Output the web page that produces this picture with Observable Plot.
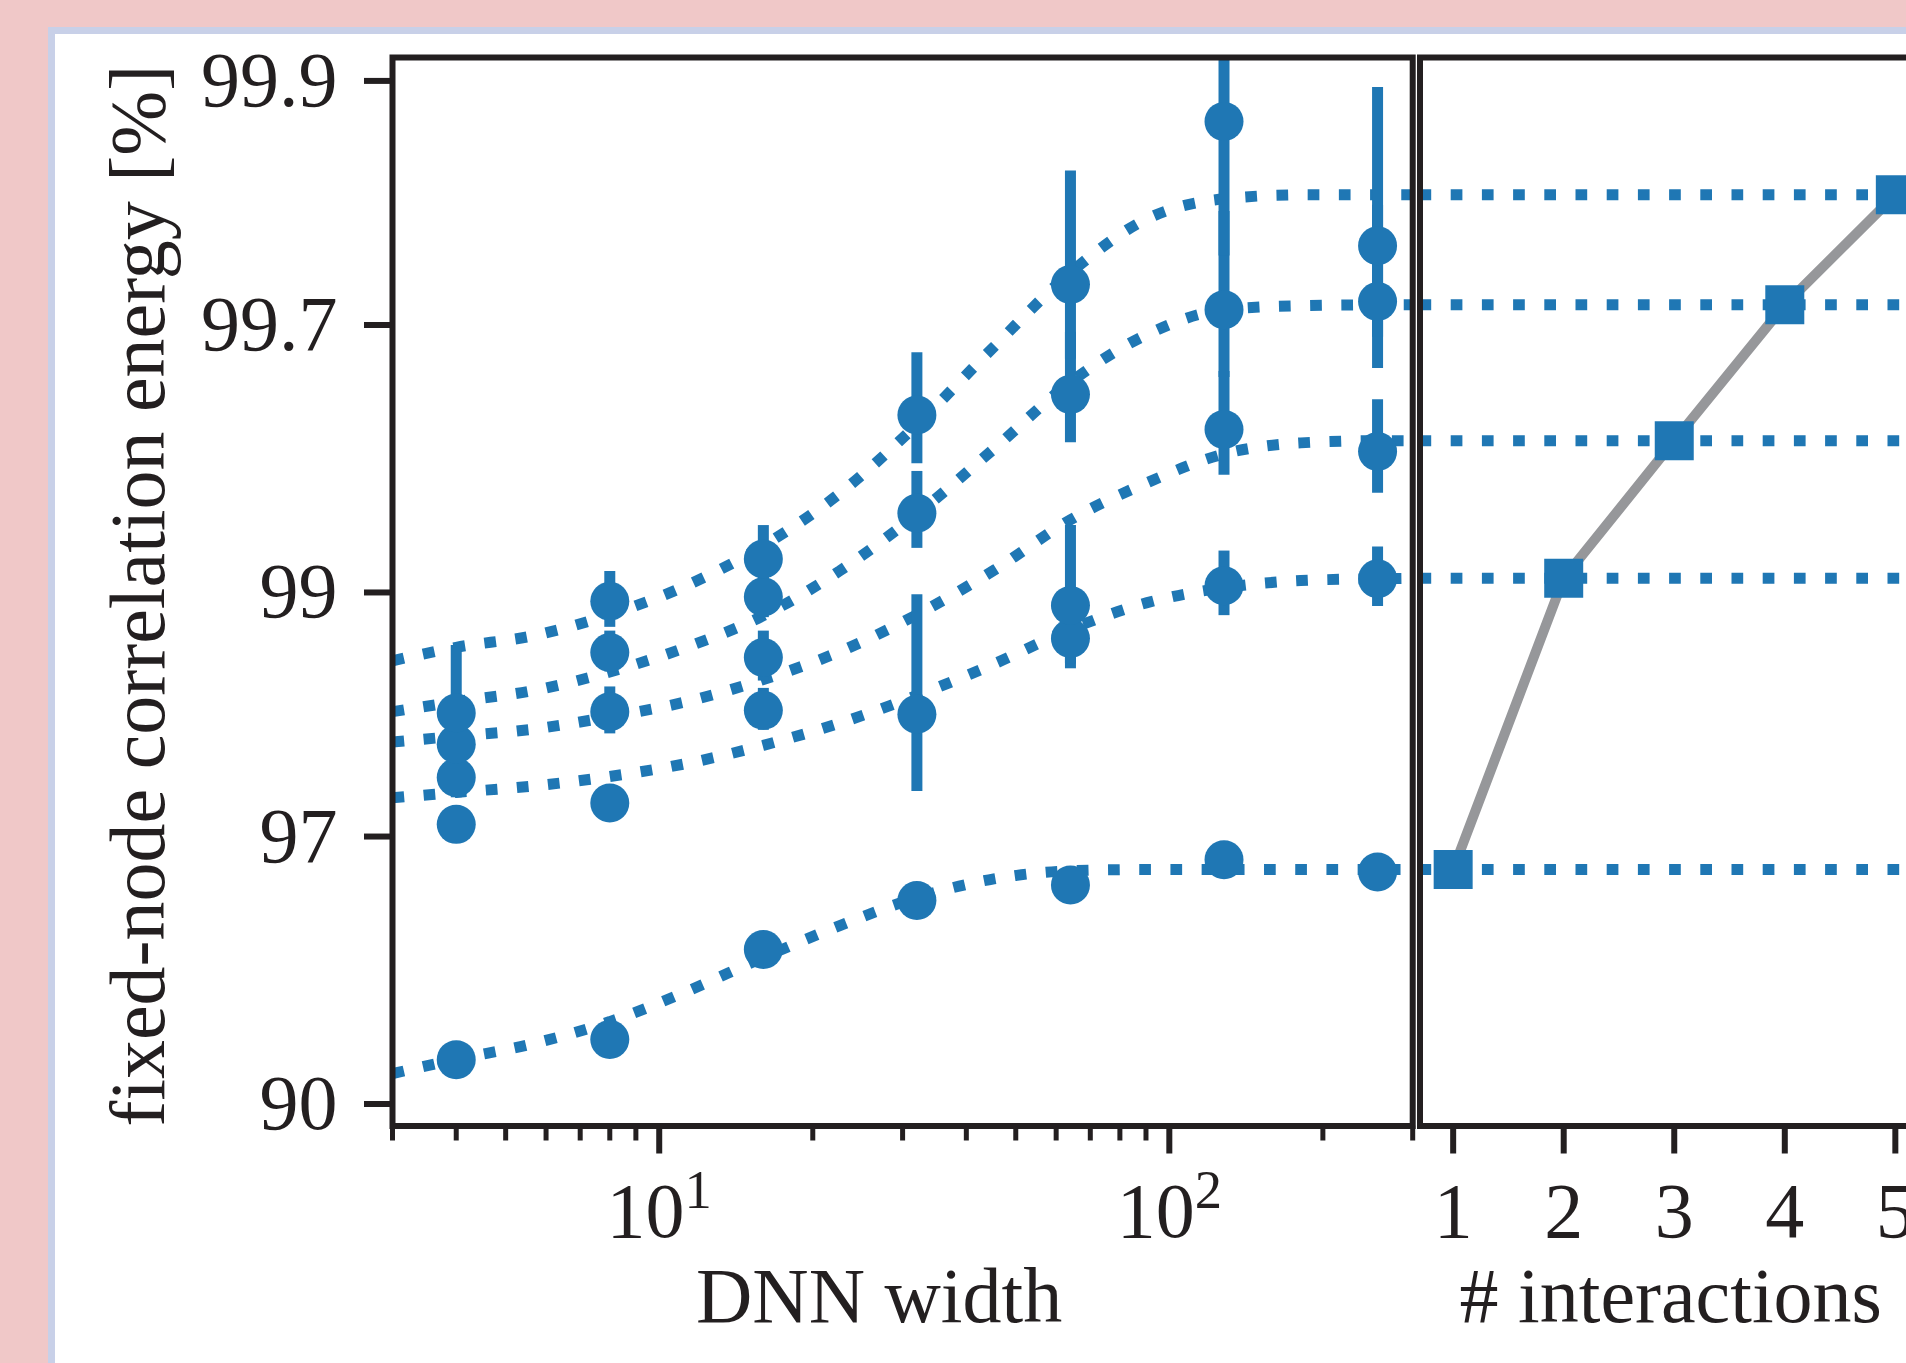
<!DOCTYPE html>
<html>
<head>
<meta charset="utf-8">
<script src="https://cdn.jsdelivr.net/npm/d3@7"></script>
<script src="https://cdn.jsdelivr.net/npm/@observablehq/plot@0.6"></script>
<style>
  html, body { margin: 0; padding: 0; width: 1906px; height: 1363px; overflow: hidden; background: #f0c8c8; }
  #blue { position: absolute; left: 48px; top: 27px; width: 1858px; height: 1336px; background: #c8d0e8; }
  #white { position: absolute; left: 55px; top: 34px; width: 1851px; height: 1329px; background: #ffffff; }
  .layer { position: absolute; left: 0; top: 0; }
</style>
</head>
<body>
<div id="blue"></div>
<div id="white"></div>
<div id="left" class="layer"></div>
<div id="right" class="layer"></div>
<script>
// ---------------- data (fixed-node correlation energy, %) ----------------
const widths = [4, 8, 16, 32, 64, 128, 256];          // DNN width
const interactions = [1, 2, 3, 4, 5];                  // # interactions

// measured energies per # interactions (rows) vs DNN width
const energy1 = [91.81, 92.52, 95.01, 96.00, 96.27, 96.67, 96.48];
const energy2 = [97.16, 97.42, 98.30, 98.27, 98.77, 99.03, 99.06];
const energy3 = [97.70, 98.29, 98.66, null, 98.94, 99.52, 99.47];
const energy4 = [98.02, 98.69, 98.98, 99.30, 99.59, 99.72, 99.73];
const energy5 = [98.28, 98.96, 99.14, 99.55, 99.75, 99.88, 99.79];

// error bars (±, %)
const error1 = [0, 0, 0, 0, 0, 0, 0];
const error2 = [0, 0, 0.16, 0.72, 0.18, 0.14, 0.125];
const error3 = [0.22, 0.18, 0.15, null, 0.32, 0.11, 0.11];
const error4 = [0.25, 0.12, 0.10, 0.12, 0.10, 0.10, 0.095];
const error5 = [0.45, 0.13, 0.12, 0.11, 0.10, 0.10, 0.107];

// dotted fit curves
const fitWidths = [3, 4, 5.66, 8, 11.3, 16, 22.6, 32, 45.3, 64, 90.5, 128, 181, 256, 300];
const fit1 = [91.28, 91.82, 92.38, 93.10, 93.97, 94.83, 95.52, 96.05, 96.37, 96.50, 96.52, 96.52, 96.52, 96.52, 96.52];
const fit2 = [97.48, 97.54, 97.61, 97.71, 97.84, 98.01, 98.20, 98.41, 98.62, 98.82, 98.953, 99.021, 99.052, 99.060, 99.062];
const fit3 = [98.04, 98.09, 98.15, 98.25, 98.365, 98.52, 98.695, 98.895, 99.095, 99.279, 99.39, 99.464, 99.49, 99.495, 99.495];
const fit4 = [98.29, 98.365, 98.445, 98.57, 98.72, 98.89, 99.093, 99.297, 99.476, 99.612, 99.687, 99.720, 99.725, 99.726, 99.726];
const fit5 = [98.64, 98.72, 98.785, 98.895, 99.03, 99.19, 99.36, 99.53, 99.669, 99.763, 99.814, 99.830, 99.833, 99.833, 99.833];

// converged energy per # interactions (right panel)
const interactionEnergy = [96.52, 99.062, 99.495, 99.726, 99.833];

// axes
const yTickValues = [99.9, 99.7, 99, 97, 90];
const yLimits = [88.96, 99.91];
const xLimits = [3, 300];
const xMajorTicks = [10, 100];
const xMinorTicks = [3, 4, 5, 6, 7, 8, 9, 20, 30, 40, 50, 60, 70, 80, 90, 200, 300];
const rightLimits = [0.7, 5.3];
const labels = {
  y: "fixed-node correlation energy [%]",
  xLeft: "DNN width",
  xRight: "# interactions"
};

// ---------------- build tables ----------------
const seriesE = [energy1, energy2, energy3, energy4, energy5];
const seriesErr = [error1, error2, error3, error4, error5];
const seriesFit = [fit1, fit2, fit3, fit4, fit5];

const points = [];
seriesE.forEach((arr, i) => arr.forEach((v, j) => {
  if (v != null) points.push({n: interactions[i], w: widths[j], v, e: seriesErr[i][j] || 0});
}));
const fits = [];
seriesFit.forEach((arr, i) => arr.forEach((v, j) => fits.push({n: interactions[i], w: fitWidths[j], v})));
const conv = interactionEnergy.map((v, i) => ({n: interactions[i], v}));

// ---------------- style ----------------
const blue = "#1f77b4";
const gray = "#96979a";
const ink = "#231f20";
const font = 78;
const H = 1363;
const frameTop = 57;
const frameBottom = 1125.5;
const dotted = "11.7,19.5";

const baseStyle = {
  fontFamily: "'Liberation Serif', 'DejaVu Serif', serif",
  fontSize: font + "px",
  color: ink,
  background: "transparent",
  overflow: "visible",
  maxWidth: "none"
};
const yScale = {type: "log", domain: yLimits.map(v => 100 - v)};

// ---------------- left panel ----------------
const leftW = 1906;
const left = Plot.plot({
  width: leftW,
  height: H,
  marginLeft: 392,
  marginRight: leftW - 1412.2,
  marginTop: frameTop,
  marginBottom: H - frameBottom,
  style: baseStyle,
  x: {type: "log", domain: xLimits},
  y: yScale,
  marks: [
    Plot.line(fits, {x: "w", y: d => 100 - d.v, z: "n", stroke: blue, strokeWidth: 11,
      strokeDasharray: dotted, strokeLinecap: "butt", strokeLinejoin: "miter", curve: "monotone-x", clip: true}),
    Plot.ruleX(points.filter(d => d.e > 0), {x: "w", y1: d => 100 - (d.v - d.e), y2: d => 100 - (d.v + d.e),
      stroke: blue, strokeWidth: 11, clip: true}),
    Plot.dot(points, {x: "w", y: d => 100 - d.v, r: 19.5, fill: blue}),
    Plot.axisX({ticks: xMinorTicks, tickSize: 15, strokeWidth: 5, stroke: ink, tickFormat: () => "", label: null}),
    Plot.axisX({ticks: xMajorTicks, tickSize: 28, tickPadding: 28, strokeWidth: 6, stroke: ink, fill: ink,
      fontSize: font, tickFormat: d => "10^" + Math.round(Math.log10(d)), label: null}),
    Plot.axisY({ticks: yTickValues.map(v => 100 - v), tickSize: 28, tickPadding: 27, strokeWidth: 6, stroke: ink, fill: ink,
      fontSize: font, tickFormat: d => String(+(100 - d).toFixed(1)), label: null}),
    Plot.text([labels.xLeft], {text: d => d, frameAnchor: "bottom", lineAnchor: "bottom", dy: 196.2, dx: -23.5,
      fontSize: font, fill: ink}),
    Plot.text([labels.y], {text: d => d, frameAnchor: "left", rotate: -90, lineAnchor: "bottom", textAnchor: "middle",
      dx: -229, dy: 4, fontSize: font, fill: ink}),
    Plot.frame({stroke: ink, strokeWidth: 6})
  ]
});
document.getElementById("left").appendChild(left);

// superscript exponents on the log axis labels
const svgNS = "http://www.w3.org/2000/svg";
left.querySelectorAll('[aria-label="x-axis tick label"] text').forEach(t => {
  const s = t.textContent;
  if (!s.includes("^")) return;
  const [base, exp] = s.split("^");
  t.textContent = base;
  const ts = document.createElementNS(svgNS, "tspan");
  ts.setAttribute("dy", "-29");
  ts.style.fontSize = (font * 0.7) + "px";
  ts.textContent = exp;
  t.appendChild(ts);
});

// ---------------- right panel ----------------
const rightW = 2000;
const right = Plot.plot({
  width: rightW,
  height: H,
  marginLeft: 1419.5,
  marginRight: rightW - 1928,
  marginTop: frameTop,
  marginBottom: H - frameBottom,
  style: baseStyle,
  x: {domain: rightLimits},
  y: {...yScale, axis: null},
  marks: [
    Plot.ruleY(interactionEnergy, {y: d => 100 - d, stroke: blue, strokeWidth: 11, strokeDasharray: dotted, clip: true}),
    Plot.line(conv, {x: "n", y: d => 100 - d.v, stroke: gray, strokeWidth: 10}),
    Plot.dot(conv, {x: "n", y: d => 100 - d.v, symbol: "square", r: 22, fill: blue}),
    Plot.axisX({ticks: interactions, tickSize: 28, tickPadding: 28, strokeWidth: 6, stroke: ink, fill: ink,
      fontSize: font, tickFormat: d => String(d), label: null}),
    Plot.text([labels.xRight], {text: d => d, frameAnchor: "bottom", lineAnchor: "bottom", dy: 196.2, dx: -3.5,
      fontSize: font, fill: ink}),
    Plot.frame({stroke: ink, strokeWidth: 6})
  ]
});
document.getElementById("right").appendChild(right);
</script>
</body>
</html>
